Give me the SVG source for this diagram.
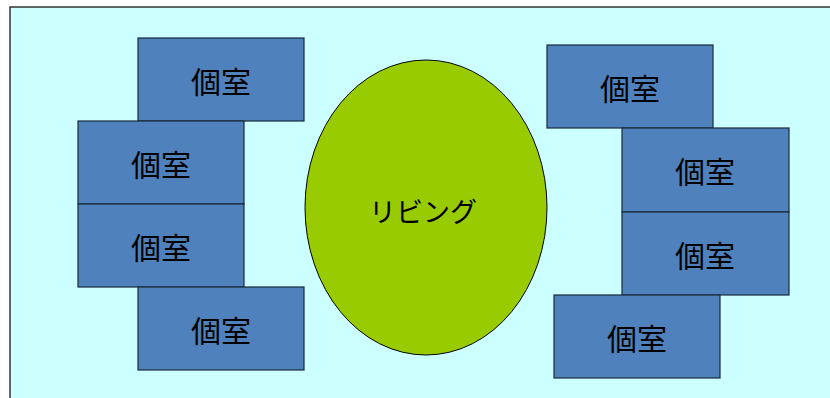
<svg xmlns="http://www.w3.org/2000/svg" width="830" height="398" viewBox="0 0 830 398">
<style>
.room rect{fill:#4F81BD;stroke:#1a2a3a;stroke-width:1.2}
.room text,.liv text{font-family:"Noto Sans CJK JP","Noto Sans",sans-serif;font-size:30px;fill:#000;text-anchor:middle;dominant-baseline:central}
.liv text{font-size:27px}
</style>
<rect x="10" y="7" width="830" height="400" fill="#CCFFFF" stroke="#333" stroke-width="1.5"/>
<g id="living" class="liv">
<ellipse cx="426" cy="207.5" rx="121" ry="147.5" fill="#99CC00" stroke="#000" stroke-width="1"/>
<text x="423" y="210">リビング</text>
</g>
<g id="room-l1" class="room"><rect x="138" y="38" width="166" height="83"/><text x="221" y="80">個室</text></g>
<g id="room-l2" class="room"><rect x="78" y="121" width="166" height="83"/><text x="161" y="163">個室</text></g>
<g id="room-l3" class="room"><rect x="78" y="204" width="166" height="83"/><text x="161" y="246">個室</text></g>
<g id="room-l4" class="room"><rect x="138" y="287" width="166" height="83"/><text x="221" y="329">個室</text></g>
<g id="room-r1" class="room"><rect x="547" y="45" width="166" height="83"/><text x="630" y="87">個室</text></g>
<g id="room-r2" class="room"><rect x="622" y="128" width="167" height="84"/><text x="705" y="170">個室</text></g>
<g id="room-r3" class="room"><rect x="622" y="212" width="167" height="83"/><text x="705" y="254">個室</text></g>
<g id="room-r4" class="room"><rect x="554" y="295" width="166" height="83"/><text x="637" y="337">個室</text></g>
<g id="connectors"/>
</svg>
